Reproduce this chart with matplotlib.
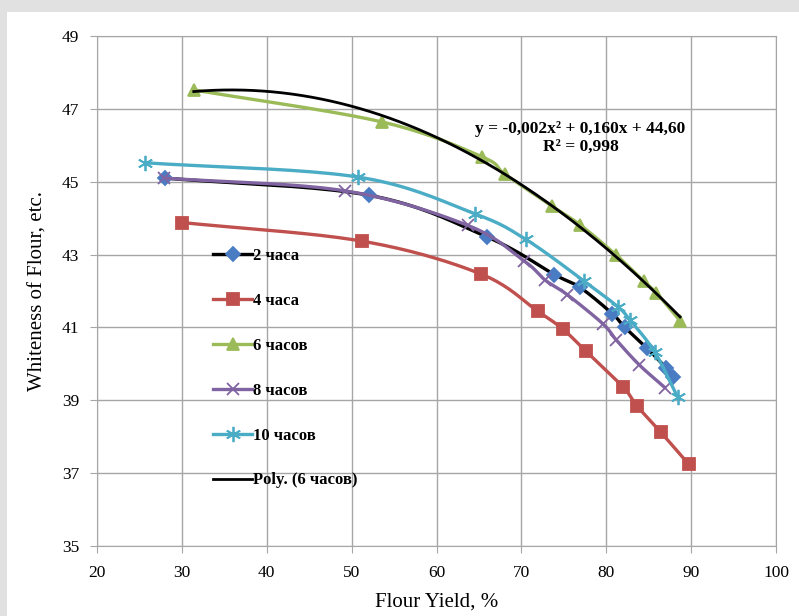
import numpy as np
import matplotlib
matplotlib.use("Agg")
import matplotlib.pyplot as plt
from matplotlib.patches import Rectangle

plt.rcParams['font.family'] = ['Liberation Serif', 'DejaVu Serif']

# data
h2_x = [28.0, 52.0, 66.0, 73.9, 76.9, 80.7, 82.2, 84.8, 87.0, 87.9]
h2_y = [45.1, 44.63, 43.48, 42.45, 42.1, 41.38, 41.0, 40.43, 39.9, 39.64]

h4_x = [30.0, 51.2, 65.2, 71.9, 74.9, 77.6, 82.0, 83.6, 86.4, 89.7]
h4_y = [43.88, 43.37, 42.47, 41.45, 40.95, 40.35, 39.36, 38.85, 38.13, 37.25]

h6_x = [31.4, 53.6, 65.4, 68.1, 73.6, 76.9, 81.2, 84.4, 85.9, 88.7]
h6_y = [47.52, 46.64, 45.68, 45.2, 44.33, 43.82, 42.98, 42.27, 41.95, 41.18]

h8_x = [27.9, 49.2, 63.7, 70.3, 72.8, 75.4, 79.6, 81.2, 83.9, 86.9]
h8_y = [45.1, 44.75, 43.8, 42.83, 42.3, 41.9, 41.1, 40.65, 39.97, 39.35]

h10_x = [25.65, 50.7, 64.5, 70.5, 77.4, 81.4, 82.8, 85.7, 88.4]
h10_y = [45.52, 45.13, 44.12, 43.42, 42.27, 41.56, 41.2, 40.33, 39.09]

labels = ["2 часа", "4 часа", "6 часов", "8 часов", "10 часов"]
eq_text = "y = -0,002x² + 0,160x + 44,60\nR² = 0,998"


def smooth(x, y, n=20, sx=8.5, sy=36.5):
    # Catmull-Rom spline in pixel-like space, like Excel smoothed lines
    p = np.column_stack([np.asarray(x) * sx, np.asarray(y) * sy])
    p = np.vstack([2 * p[0] - p[1], p, 2 * p[-1] - p[-2]])
    out = []
    t = np.linspace(0, 1, n, endpoint=False)[:, None]
    for i in range(1, len(p) - 2):
        p0, p1, p2, p3 = p[i - 1], p[i], p[i + 1], p[i + 2]
        seg = 0.5 * ((2 * p1) + (-p0 + p2) * t + (2 * p0 - 5 * p1 + 4 * p2 - p3) * t ** 2
                     + (-p0 + 3 * p1 - 3 * p2 + p3) * t ** 3)
        out.append(seg)
    out.append(p[-2][None, :])
    out = np.vstack(out)
    return out[:, 0] / sx, out[:, 1] / sy


fig = plt.figure(figsize=(7.99, 6.16), dpi=100, facecolor='#e1e1e1')
fig.patches.append(Rectangle((7 / 799, 0), 1, 1 - 12 / 616, transform=fig.transFigure,
                             facecolor='white', edgecolor='none', zorder=-10))
ax = fig.add_axes([97 / 799, 1 - 546 / 616, (776 - 97) / 799, (546 - 36) / 616])

series = [
    (h2_x, h2_y, 'black', '#4a7cc4', 'D', 7),
    (h4_x, h4_y, '#c0504d', '#c0504d', 's', 9),
    (h6_x, h6_y, '#9bbb59', '#9bbb59', '^', 9),
    (h8_x, h8_y, '#8064a2', '#8064a2', 'x', 9),
    (h10_x, h10_y, '#4bacc6', '#4bacc6', (6, 2, 0), 11),
]
for i, (x, y, lc, mc, m, ms) in enumerate(series):
    sxx, syy = smooth(x, y)
    ax.plot(sxx, syy, color=lc, lw=2.4, zorder=3 + i, solid_capstyle='round')
    ax.plot(x, y, ls='none', marker=m, ms=ms, color=mc, mec=mc, mew=1.3, zorder=3 + i)
    ax.plot([], [], color=lc, lw=2.4, marker=m, ms=ms, mfc=mc, mec=mc, mew=1.3, label=labels[i])

# polynomial trendline on the 6 hour series
coef = np.polyfit(h6_x, h6_y, 2)
xt = np.linspace(min(h6_x), max(h6_x), 200)
ax.plot(xt, np.polyval(coef, xt), color='black', lw=2, zorder=9, label="Poly. (6 часов)")

ax.text(0.712, 0.80, eq_text, ha='center', va='center', fontsize=12.5, fontweight='bold',
        linespacing=1.15, transform=ax.transAxes, multialignment='center')

ax.set_xlim(20, 100)
ax.set_ylim(35, 49)
ax.set_xticks(np.arange(20, 101, 10))
ax.set_yticks(np.arange(35, 50, 2))
ax.grid(True, color='#a6a6a6', lw=1)
ax.set_axisbelow(True)
for s in ax.spines.values():
    s.set_color('#a6a6a6')
ax.tick_params(colors='#a6a6a6', labelcolor='black', labelsize=12.5, length=5)
ax.tick_params(axis='x', pad=9)
ax.tick_params(axis='y', pad=8)
ax.set_xlabel("Flour Yield, %", fontsize=15, labelpad=8)
ax.set_ylabel("Whiteness of Flour, etc.", fontsize=15, labelpad=10)

ax.legend(loc='upper left', bbox_to_anchor=(205 / 799, 1 - 240 / 616),
          bbox_transform=fig.transFigure, frameon=False, prop={'weight': 'bold', 'size': 12},
          handlelength=2.3, handletextpad=0.05, labelspacing=1.73, borderpad=0)

fig.savefig("out.png", dpi=100, facecolor=fig.get_facecolor())
